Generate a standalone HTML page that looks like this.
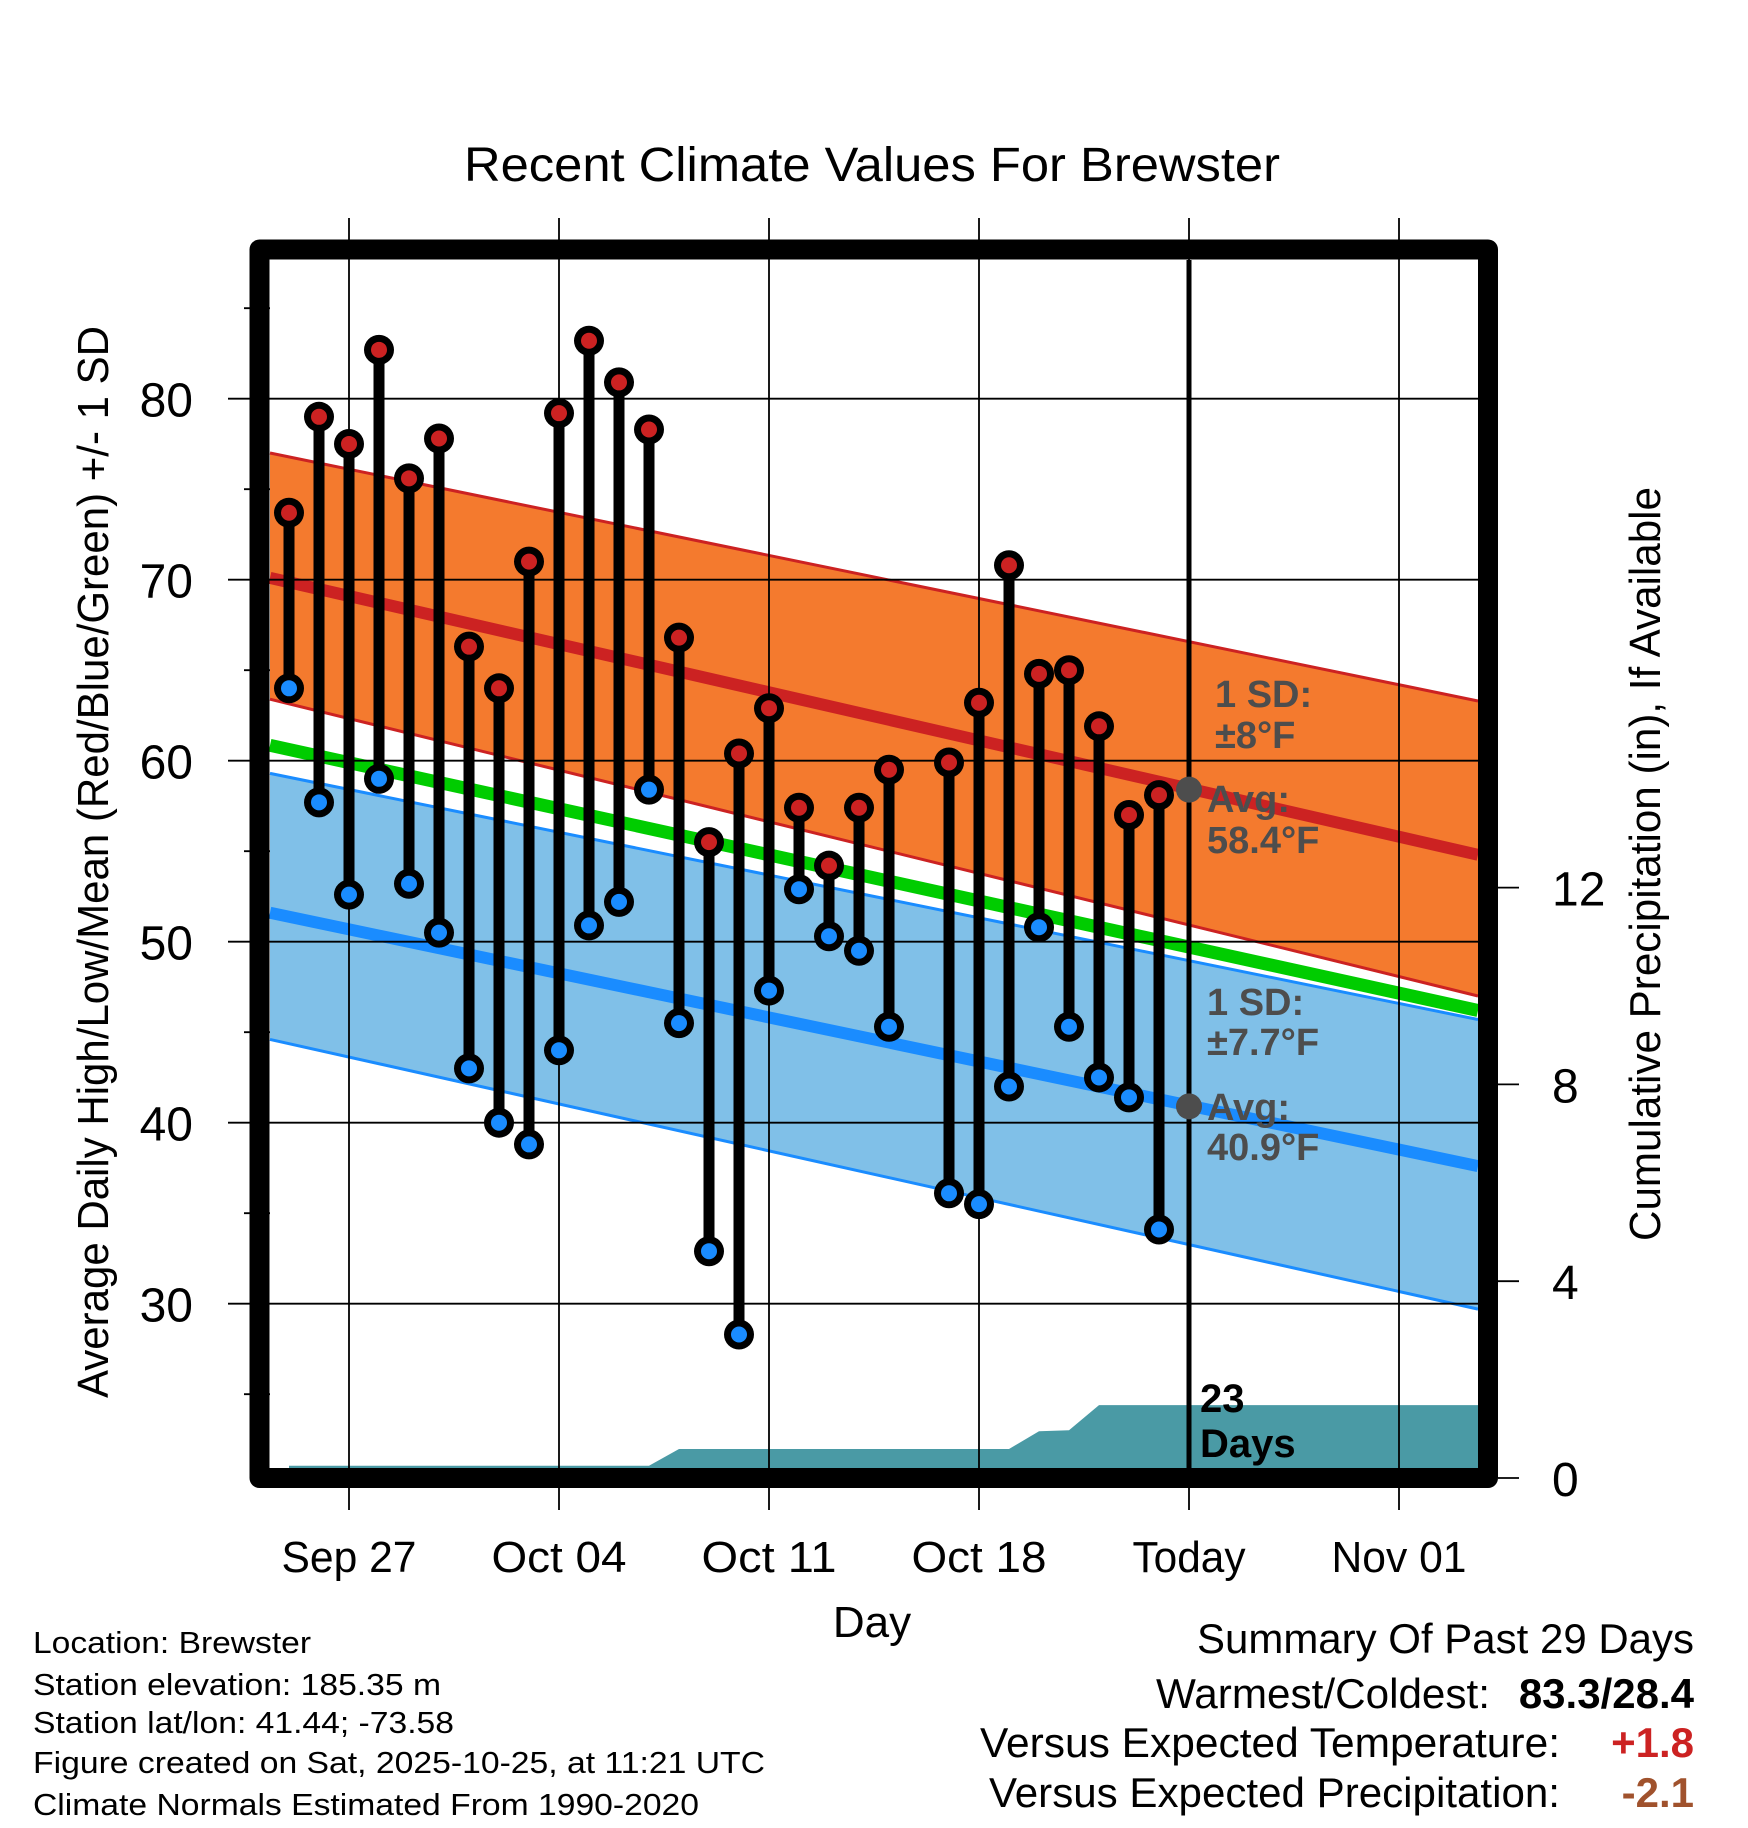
<!DOCTYPE html>
<html><head><meta charset="utf-8"><style>
html,body{margin:0;padding:0;background:#fff;}
svg{display:block;font-family:"Liberation Sans",Arial,sans-serif;}
</style></head><body>
<svg id="chart" width="1748" height="1828" viewBox="0 0 1748 1828" xmlns="http://www.w3.org/2000/svg">
<rect width="1748" height="1828" fill="#fff"/>
<text x="872" y="181" font-size="48" text-anchor="middle" textLength="816" lengthAdjust="spacingAndGlyphs">Recent Climate Values For Brewster</text>
<g id="bands"></g>
<g id="grid"></g>
<g id="marks"></g>
<g id="axes"></g>
<text transform="translate(108,862) rotate(-90)" font-size="44" text-anchor="middle" textLength="1072" lengthAdjust="spacingAndGlyphs">Average Daily High/Low/Mean (Red/Blue/Green) +/- 1 SD</text>
<text transform="translate(1660,864) rotate(-90)" font-size="44" text-anchor="middle" textLength="754" lengthAdjust="spacingAndGlyphs">Cumulative Precipitation (in), If Available</text>
<text x="872" y="1637" font-size="44" text-anchor="middle">Day</text>
<g font-size="31">
<text x="33" y="1653" textLength="278" lengthAdjust="spacingAndGlyphs">Location: Brewster</text>
<text x="33" y="1695" textLength="408" lengthAdjust="spacingAndGlyphs">Station elevation: 185.35 m</text>
<text x="33" y="1733" textLength="421" lengthAdjust="spacingAndGlyphs">Station lat/lon: 41.44; -73.58</text>
<text x="33" y="1773" textLength="732" lengthAdjust="spacingAndGlyphs">Figure created on Sat, 2025-10-25, at 11:21 UTC</text>
<text x="33" y="1815" textLength="666" lengthAdjust="spacingAndGlyphs">Climate Normals Estimated From 1990-2020</text>
</g>
<g font-size="42">
<text x="1197" y="1653" textLength="497" lengthAdjust="spacingAndGlyphs">Summary Of Past 29 Days</text>
<text x="1156" y="1708" textLength="334" lengthAdjust="spacingAndGlyphs">Warmest/Coldest:</text>
<text x="1694" y="1708" text-anchor="end" font-weight="bold">83.3/28.4</text>
<text x="980" y="1757" textLength="580" lengthAdjust="spacingAndGlyphs">Versus Expected Temperature:</text>
<text x="1694" y="1757" text-anchor="end" font-weight="bold" fill="#cc2222">+1.8</text>
<text x="989" y="1807" textLength="571" lengthAdjust="spacingAndGlyphs">Versus Expected Precipitation:</text>
<text x="1694" y="1807" text-anchor="end" font-weight="bold" fill="#a0522d">-2.1</text>
</g>
</svg>
<script>
// ---- data ----
const highs = [73.7,79.0,77.5,82.7,75.6,77.8,66.3,64.0,71.0,79.2,83.2,80.9,78.3,66.8,55.5,60.4,62.9,57.4,54.2,57.4,59.5,null,59.9,63.2,70.8,64.8,65.0,61.9,57.0,58.1];
const lows  = [64.0,57.7,52.6,59.0,53.2,50.5,43.0,40.0,38.8,44.0,50.9,52.2,58.4,45.5,32.9,28.3,47.3,52.9,50.3,49.5,45.3,null,36.1,35.5,42.0,50.8,45.3,42.5,41.4,34.1];
const precip = [0.25,0.25,0.25,0.25,0.25,0.25,0.25,0.25,0.25,0.25,0.25,0.25,0.25,0.59,0.59,0.59,0.59,0.59,0.59,0.59,0.59,0.59,0.59,0.59,0.59,0.95,0.97,1.48,1.48,1.48];
const normHighEnds = [70.1,54.8];
const highUpperEnds = [77.0,63.3];
const highLowerEnds = [63.4,47.0];
const normLowEnds = [51.6,37.6];
const lowUpperEnds = [59.3,45.7];
const lowLowerEnds = [44.6,29.7];
const todayHigh = 58.4;
const todayLow = 40.9;
const xTickLabels = ["Sep 27","Oct 04","Oct 11","Oct 18","Today","Nov 01"];
const xTickDays = [2,9,16,23,30,37];
const yTickValues = [30,40,50,60,70,80];
const yMinorValues = [25,35,45,55,65,75,85];
const pTickValues = [0,4,8,12];
// ---- scales ----
const L=270,R=1478,T=260,B=1468;
const x = d => 289 + 30*d;
const y = t => 398.7 + (80-t)*18.1;
const yp = p => 1478 - p*49.2;
const dL=(L-289)/30, dR=(R-289)/30;
const NS="http://www.w3.org/2000/svg";
function mk(tag,parent,attrs){const e=document.createElementNS(NS,tag);for(const k in attrs)e.setAttribute(k,attrs[k]);parent.appendChild(e);return e;}
const bands=document.getElementById('bands'),grid=document.getElementById('grid'),marks=document.getElementById('marks'),axes=document.getElementById('axes');
const lin = ends => d => ends[0]+(ends[1]-ends[0])*(d-dL)/(dR-dL);
const nh=lin(normHighEnds), hu=lin(highUpperEnds), hl=lin(highLowerEnds);
const nl=lin(normLowEnds), lu=lin(lowUpperEnds), ll=lin(lowLowerEnds);
function bandPts(u,l){return `${L},${y(u(dL))} ${R},${y(u(dR))} ${R},${y(l(dR))} ${L},${y(l(dL))}`;}
function line(f,stroke,w,name){const e=mk('line',bands,{x1:L,y1:y(f(dL)),x2:R,y2:y(f(dR)),stroke:stroke,'stroke-width':w});
}
// blue band
let e=mk('polygon',bands,{points:bandPts(lu,ll),fill:'#80c0e8'});

line(lu,'#1a8cff',3,'low-sd-upper-edge');
line(ll,'#1a8cff',3,'low-sd-lower-edge');
line(nl,'#1a8cff',12,'normal-low-line');
// orange band
e=mk('polygon',bands,{points:bandPts(hu,hl),fill:'#f47a2e'});

line(hu,'#cc2222',3,'high-sd-upper-edge');
line(hl,'#cc2222',3,'high-sd-lower-edge');
line(nh,'#cc2222',12,'normal-high-line');
line(d=>(nh(d)+nl(d))/2,'#00cc00',13,'normal-mean-line');
// precip area
let pts=`${x(0)},${yp(0)} `;
precip.forEach((p,i)=>{pts+=`${x(i)},${yp(p)} `;});
pts+=`${R},${yp(precip[precip.length-1])} ${R},${yp(0)}`;
e=mk('polygon',bands,{points:pts,fill:'#4a9aa5'});

// grid
yTickValues.forEach(v=>{e=mk('line',grid,{x1:228,y1:y(v),x2:R,y2:y(v),stroke:'#000','stroke-width':1.8});
});
yMinorValues.forEach(v=>{e=mk('line',grid,{x1:244,y1:y(v),x2:L,y2:y(v),stroke:'#000','stroke-width':1.8});
});
xTickDays.forEach(d=>{e=mk('line',grid,{x1:x(d),y1:218,x2:x(d),y2:1510,stroke:'#000','stroke-width':1.8});
});
// today line
e=mk('line',marks,{x1:x(30),y1:T,x2:x(30),y2:B,stroke:'#000','stroke-width':5});

// stems and dots
highs.forEach((h,i)=>{
  const l=lows[i]; if(h==null||l==null) return;
  const g=mk('g',marks,{});
  
  let s=mk('line',g,{x1:x(i),y1:y(h),x2:x(i),y2:y(l),stroke:'#000','stroke-width':11});
  
  [[h,'#cc2222','high-point'],[l,'#1a8cff','low-point']].forEach(([v,c,n])=>{
    let o=mk('circle',g,{cx:x(i),cy:y(v),r:15,fill:'#000'});
    
    let c2=mk('circle',g,{cx:x(i),cy:y(v),r:8,fill:c});
    
  });
});
// today avg dots
e=mk('circle',marks,{cx:x(30),cy:y(todayHigh),r:13,fill:'#4d4d4d'});

e=mk('circle',marks,{cx:x(30),cy:y(todayLow),r:13,fill:'#4d4d4d'});

// annotation labels
const ann=[["1 SD:",1215,707,'high-sd-label'],["±8°F",1215,748,'high-sd-value'],["Avg:",1207,812,'high-avg-label'],[todayHigh+"°F",1207,853,'high-avg-value'],
["1 SD:",1207,1015,'low-sd-label'],["±7.7°F",1207,1055,'low-sd-value'],["Avg:",1207,1120,'low-avg-label'],[todayLow+"°F",1207,1160,'low-avg-value']];
ann.forEach(([t,ax,ay,n])=>{e=mk('text',marks,{x:ax,y:ay,'font-size':38,'font-weight':'bold',fill:'#4d4d4d'});e.textContent=t;
});
e=mk('text',marks,{x:1200,y:1412,'font-size':40,'font-weight':'bold',fill:'#000'});e.textContent='23';

e=mk('text',marks,{x:1200,y:1457,'font-size':40,'font-weight':'bold',fill:'#000'});e.textContent='Days';

// frame
e=mk('rect',axes,{x:259.5,y:249.5,width:1228.5,height:1228.5,fill:'none',stroke:'#000','stroke-width':20,'stroke-linejoin':'round'});

// y tick labels
yTickValues.forEach(v=>{e=mk('text',axes,{x:193,y:y(v)+18,'font-size':48,'text-anchor':'end'});e.textContent=v;
});
// precip ticks
pTickValues.forEach(v=>{
  e=mk('line',axes,{x1:1498,y1:yp(v),x2:1519,y2:yp(v),stroke:'#000','stroke-width':1.8});
  
  e=mk('text',axes,{x:1552,y:yp(v)+18,'font-size':48});e.textContent=v;
  
});
// x tick labels
xTickLabels.forEach((t,i)=>{e=mk('text',axes,{x:x(xTickDays[i]),y:1572,'font-size':44,'text-anchor':'middle',textLength:(t.length*22.5).toFixed(0),lengthAdjust:'spacingAndGlyphs'});e.textContent=t;
});
</script>
</body></html>
